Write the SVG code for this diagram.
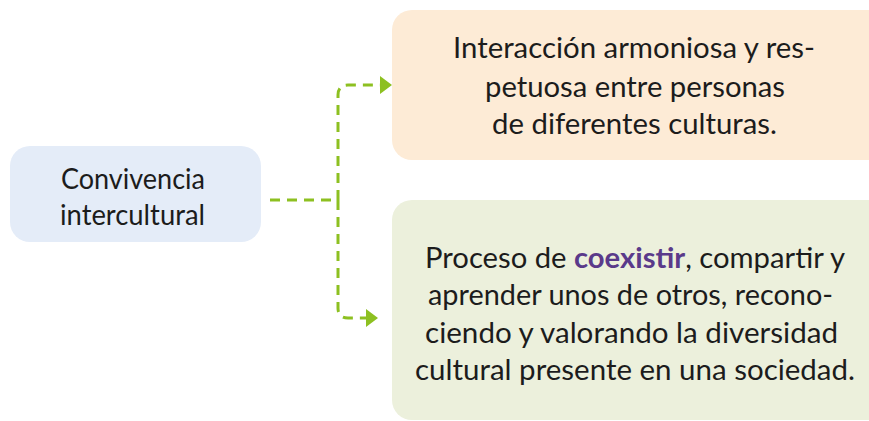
<svg xmlns="http://www.w3.org/2000/svg" width="869" height="421" viewBox="0 0 869 421">
  <style>
    .t { font-family: Lato, "Noto Sans", "Liberation Sans", sans-serif; font-size: 28px; fill: #1c1c1c; }
    .b { font-weight: bold; fill: #5a3a8a; }
    .conn { fill: none; stroke: #8dc021; stroke-width: 3; stroke-dasharray: 10 7; }
  </style>
  <defs>
    <marker id="arr" markerWidth="12" markerHeight="18" refX="0" refY="9" orient="auto" markerUnits="userSpaceOnUse">
      <path d="M0,0 L12,9 L0,18 z" fill="#8dc021"/>
    </marker>
  </defs>
  <rect width="869" height="421" fill="#ffffff"/>
  <g id="node-convivencia">
    <rect x="10" y="146" width="251" height="96" rx="20" fill="#e4ecf8"/>
    <text class="t" x="61" y="189" textLength="144" lengthAdjust="spacingAndGlyphs">Convivencia</text>
    <text class="t" x="60" y="225" textLength="145" lengthAdjust="spacingAndGlyphs">intercultural</text>
  </g>
  <g id="node-interaccion">
    <rect x="392" y="10" width="500" height="150" rx="20" fill="#fdebd6"/>
    <text class="t" x="453" y="58" textLength="362" lengthAdjust="spacingAndGlyphs">Interacción armoniosa y res-</text>
    <text class="t" x="485" y="97" textLength="300" lengthAdjust="spacingAndGlyphs">petuosa entre personas</text>
    <text class="t" x="492" y="134" textLength="285" lengthAdjust="spacingAndGlyphs">de diferentes culturas.</text>
  </g>
  <g id="node-proceso">
    <rect x="392" y="200" width="500" height="220" rx="20" fill="#ecf0dc"/>
    <text class="t" x="425" y="268" textLength="420" lengthAdjust="spacingAndGlyphs">Proceso de <tspan class="b">coexistir</tspan>, compartir y</text>
    <text class="t" x="428" y="305" textLength="405" lengthAdjust="spacingAndGlyphs">aprender unos de otros, recono-</text>
    <text class="t" x="425" y="343" textLength="413" lengthAdjust="spacingAndGlyphs">ciendo y valorando la diversidad</text>
    <text class="t" x="415" y="380" textLength="440" lengthAdjust="spacingAndGlyphs">cultural presente en una sociedad.</text>
  </g>
  <g id="connectors">
    <path class="conn" d="M270 200 H338"/>
    <path class="conn" d="M338 200 V95 Q338 85 348 85 H380" marker-end="url(#arr)"/>
    <path class="conn" d="M338 200 V308 Q338 318 348 318 H366" marker-end="url(#arr)"/>
  </g>
</svg>
